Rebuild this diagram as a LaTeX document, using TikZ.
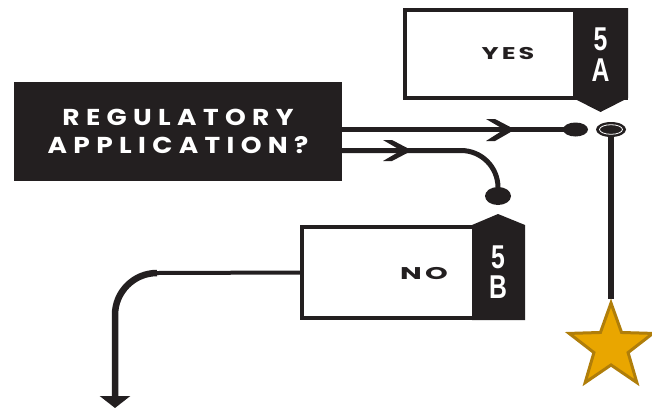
\documentclass[tikz,border=0pt]{standalone}
\usepackage{fontspec}
\usepackage{graphicx}
\usetikzlibrary{shapes.geometric,arrows.meta}
\setmainfont{Poppins}
\newfontfamily\capfont[LetterSpace=24]{Poppins}
\newfontfamily\smallcapfont[LetterSpace=12]{Poppins}
\newfontfamily\numfont{Liberation Sans}
\definecolor{ink}{HTML}{231F20}
\definecolor{gold}{HTML}{E9A600}
\definecolor{goldedge}{HTML}{B07E0A}
\tikzset{
  answerbox/.style={draw=ink, line width=4pt, fill=white, minimum width=221pt, inner sep=0pt},
  conn/.style={draw=ink, line width=5pt},
  blob/.style={ellipse, fill=ink, inner sep=0pt},
  tabtxt/.style={text=white, inner sep=0pt, font=\numfont\bfseries\fontsize{33}{33}\selectfont},
  anstxt/.style={text=ink, inner sep=0pt, font=\smallcapfont\bfseries\fontsize{17}{18}\selectfont},
  chev/.style={fill=ink}
}
\begin{document}
\begin{tikzpicture}[x=1pt,y=-1pt]
\useasboundingbox (0,0) rectangle (652,410);

% question box
\node[fill=ink, minimum width=328pt, minimum height=99pt, inner sep=0pt, text=white, align=center,
      font=\capfont\bfseries\fontsize{23}{28}\selectfont] (reg) at (178,131.5)
      {\scalebox{1.15}[1]{REGULATORY}\\\scalebox{1.15}[1]{APPLICATION?}};

% YES box
\node[answerbox, minimum height=88pt] (yes) at (515.5,54) {};
\fill[ink] (573,8) -- (628,8) -- (628,98) -- (600.5,112) -- (573,98) -- cycle;
\node[anstxt] (yestxt) at (508,54) {\scalebox{1.5}[1]{YES}};
\node[tabtxt] (tabA1) at (600.5,39) {\scalebox{0.75}[1]{5}};
\node[tabtxt] (tabA2) at (600.5,70) {\scalebox{0.75}[1]{A}};

% NO box
\node[answerbox, minimum height=91pt] (no) at (412.5,272.5) {};
\fill[ink] (472,225) -- (498,214) -- (525,225) -- (525,320) -- (472,320) -- cycle;
\node[anstxt] (notxt) at (424,273) {\scalebox{1.7}[1]{NO}};
\node[tabtxt] (tabB1) at (498,257.5) {\scalebox{0.75}[1]{5}};
\node[tabtxt] (tabB2) at (498,287.5) {\scalebox{0.75}[1]{B}};

% dots and ring
\coordinate (l2) at (342,150.5);
\draw[conn] (reg.east |- 0,129.5) -- (575.5,129.5) coordinate (dotAc);
\draw[conn, rounded corners=37pt] (reg.east |- l2) -| (498,196) coordinate (dotBc);
\node[blob, minimum width=25pt, minimum height=14pt] (dotA) at (dotAc) {};
\node[blob, minimum width=26pt, minimum height=18pt] (dotB) at (dotBc) {};

% chevrons
\fill[chev] (486,119) -- (495,119) -- (515,129.5) -- (495,141) -- (486,141) -- (504,129.5) -- cycle;
\fill[chev] (383,140) -- (392,140) -- (412,150.5) -- (392,161) -- (383,161) -- (401,150.5) -- cycle;

% star and ring
\node[star, star points=5, star point ratio=2.45, minimum size=88pt, inner sep=0pt,
      fill=gold, draw=goldedge, line width=3pt] (star) at (611,347) {};
\node[blob, minimum width=30pt, minimum height=15pt] (ring) at (611,129.5) {};
\draw[white, line width=0.8pt] (ring.center) ellipse [x radius=11.5, y radius=4.8];
\draw[conn, line width=6pt] (ring.south) -- (star.north);

% NO exit arrow
\coordinate (nobend) at (157,273);
\coordinate (noturn) at (115,273);
\coordinate (noend) at (115,408);
\draw[draw=ink, line width=4pt] (no.west) -- (nobend);
\draw[draw=ink, line width=6.5pt, rounded corners=42pt, -{Triangle[width=30pt,length=12pt]}]
  (nobend) -- (noturn) -- (noend);
\end{tikzpicture}
\end{document}
